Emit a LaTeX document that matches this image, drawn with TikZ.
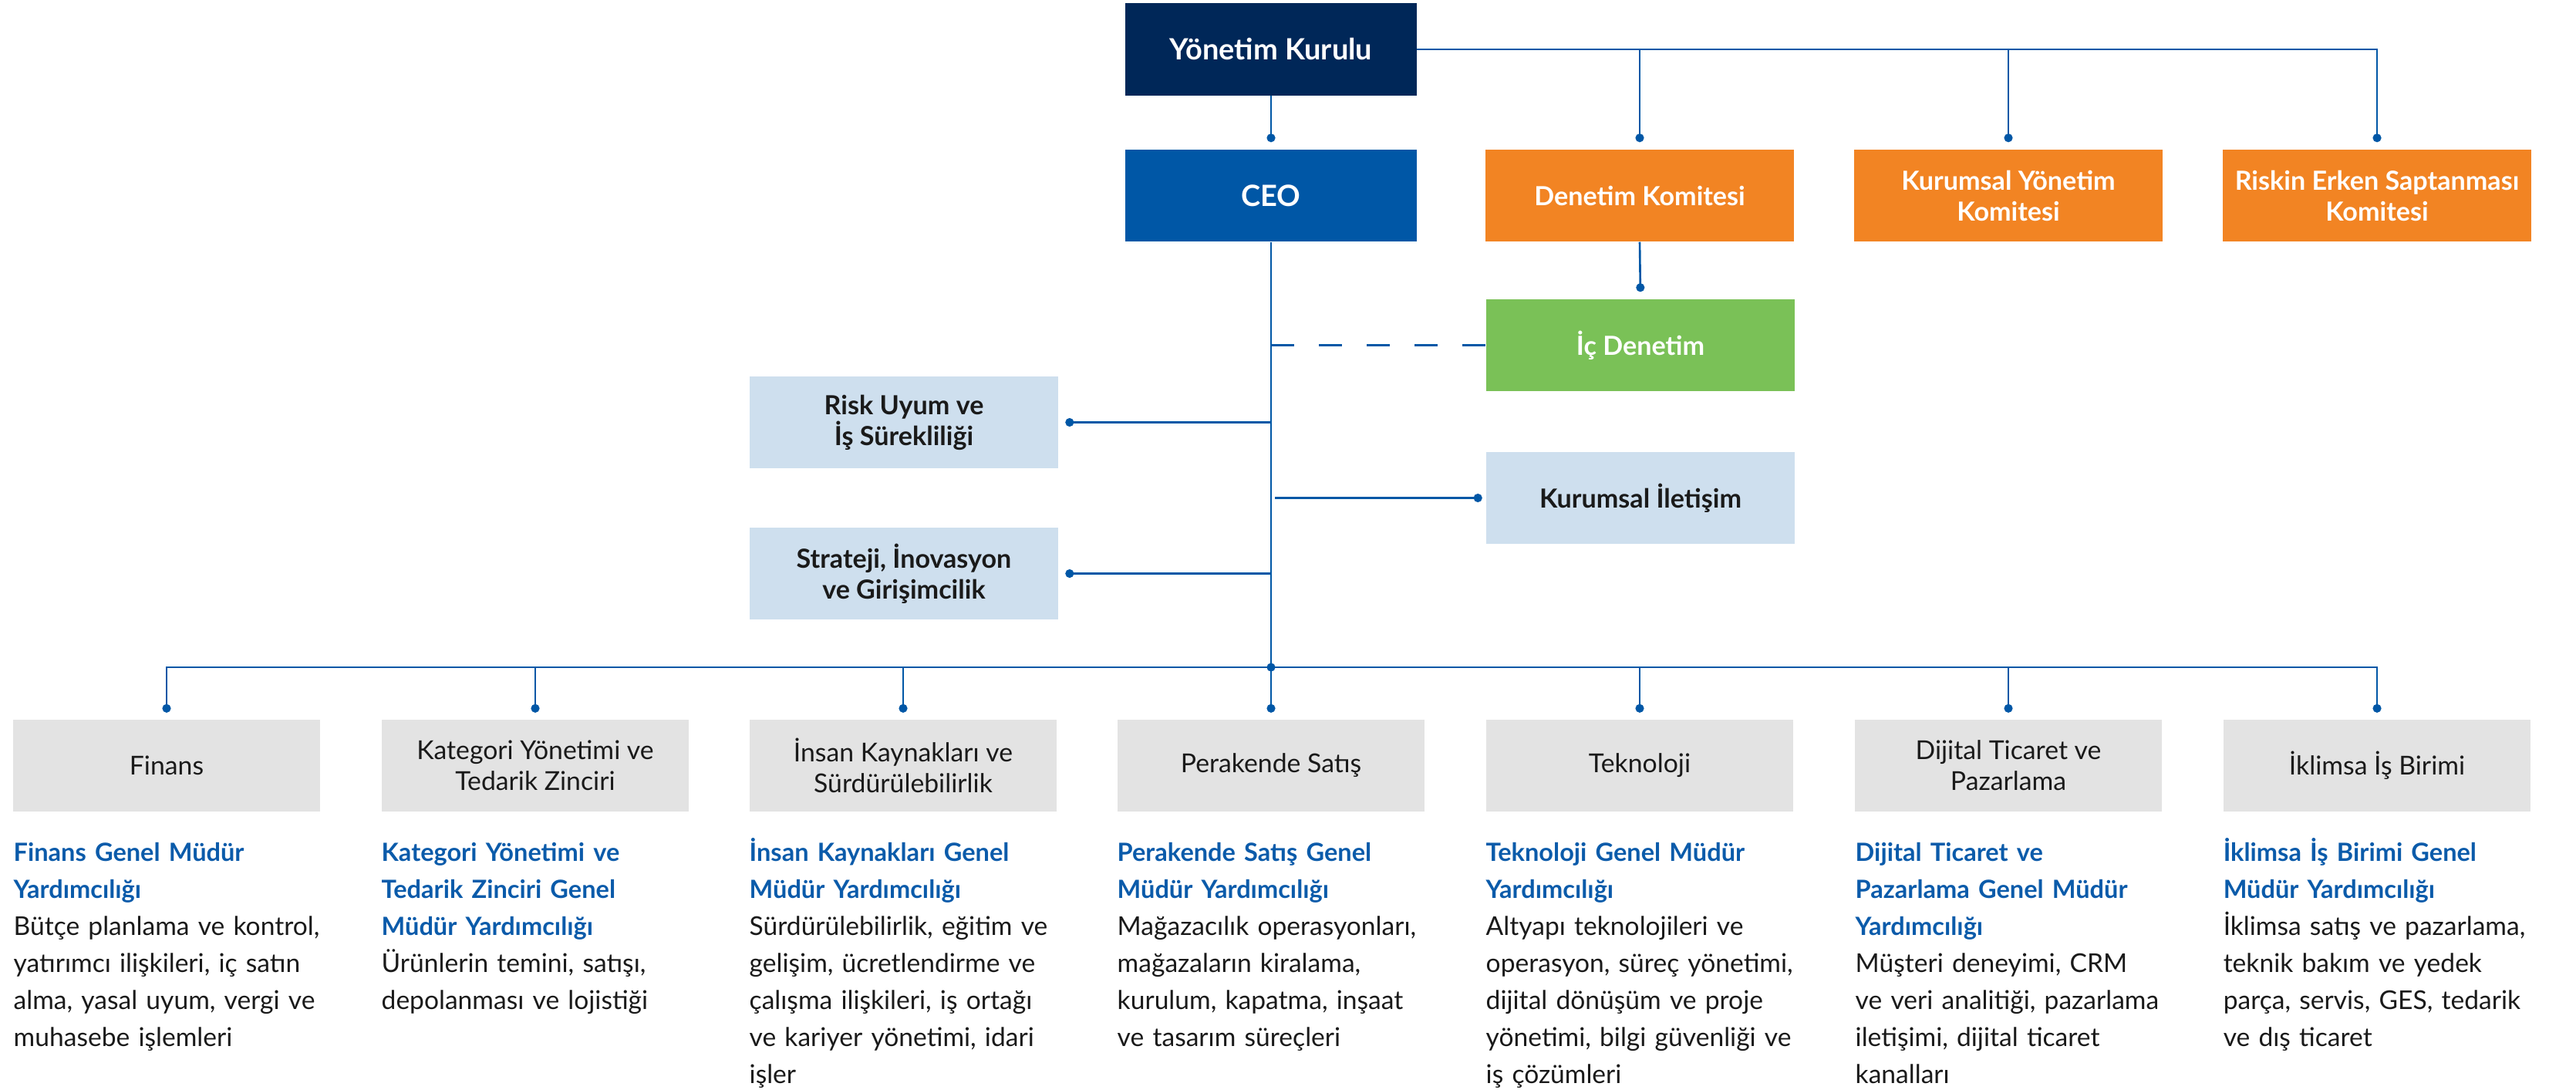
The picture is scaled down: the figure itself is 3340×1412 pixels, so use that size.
\documentclass[tikz,border=0pt]{standalone}
\usepackage{fontspec}
\setmainfont{Lato}
\usetikzlibrary{arrows.meta,calc}
\definecolor{navy}{HTML}{002758}
\definecolor{ceoblue}{HTML}{0057A6}
\definecolor{orng}{HTML}{F28423}
\definecolor{grn}{HTML}{7AC157}
\definecolor{lblue}{HTML}{CEDFEE}
\definecolor{lgrey}{HTML}{E3E3E3}
\definecolor{lineblue}{HTML}{0057A6}
\definecolor{tblue}{HTML}{0B5BAA}
\definecolor{txt}{HTML}{1A1A1A}
\begin{document}
\begin{tikzpicture}[x=0.01cm,y=-0.01cm,
  box/.style={rectangle, minimum width=4.0cm, minimum height=1.19cm, inner sep=0pt, align=center},
  topbox/.style={box, minimum width=3.77cm, fill=#1, text=white, font=\bfseries\fontsize{10.8}{12.5}\selectfont},
  orbox/.style={box, fill=orng, text=white, font=\bfseries\fontsize{9.7}{11.38}\selectfont},
  grbox/.style={box, fill=grn, text=white, font=\bfseries\fontsize{9.7}{11.38}\selectfont},
  lbbox/.style={box, fill=lblue, text=txt, font=\bfseries\fontsize{9.7}{11.38}\selectfont},
  gybox/.style={box, minimum width=3.98cm, fill=lgrey, text=txt, font=\fontsize{9.6}{11.38}\selectfont},
  desc/.style={anchor=north west, inner sep=0pt, text width=4.6cm, align=left, text=txt, font=\fontsize{9.55}{13.66}\selectfont},
  conn/.style={draw=lineblue, line width=0.75pt},
  dotend/.style={-{Circle[length=0.11cm,width=0.11cm]}, shorten >=#1},
  dotend/.default=0.09cm,
  jdot/.style={fill=lineblue}
]
\useasboundingbox (0,0) rectangle (3340,1412);
\newcommand{\ttl}[1]{{\color{tblue}\bfseries\fontsize{9.25}{13.66}\selectfont #1}}

% top level
\node[topbox=navy] (yk) at (1648,64) {Yönetim Kurulu};
\node[topbox=ceoblue] (ceo) at (1648,253.5) {CEO};
\node[orbox] (dk) at (2126,253.5) {Denetim Komitesi};
\node[orbox] (kyk) at (2604,253.5) {Kurumsal Yönetim\\Komitesi};
\node[orbox] (rek) at (3082,253.5) {Riskin Erken Saptanması\\Komitesi};

% side boxes
\node[grbox] (ic) at (2127,447.5) {İç Denetim};
\node[lbbox] (ki) at (2127,645.5) {Kurumsal İletişim};
\node[lbbox] (ru) at (1172,547.5) {Risk Uyum ve\\İş Sürekliliği};
\node[lbbox] (st) at (1172,743.5) {Strateji, İnovasyon\\ve Girişimcilik};

% bottom boxes
\node[gybox] (p1) at (216,992.5) {Finans};
\node[gybox] (p2) at (694,992.5) {Kategori Yönetimi ve\\Tedarik Zinciri};
\node[gybox] (p3) at (1171,992.5) {İnsan Kaynakları ve\\Sürdürülebilirlik};
\node[gybox] (p4) at (1648,992.5) {Perakende Satış};
\node[gybox] (p5) at (2126,992.5) {Teknoloji};
\node[gybox] (p6) at (2604,992.5) {Dijital Ticaret ve\\Pazarlama};
\node[gybox] (p7) at (3082,992.5) {İklimsa İş Birimi};

\coordinate (bus) at (1648,865);

% connectors top
\draw[conn,dotend] (yk.east) -| (rek.north);
\draw[conn,dotend] (yk.east -| dk.north) -- (dk.north);
\draw[conn,dotend] (yk.east -| kyk.north) -- (kyk.north);
\draw[conn,dotend] (yk.south) -- (ceo.north);
\draw[conn,dotend] (dk.south) -- (ic.north);

% CEO side connectors
\draw[conn, dash pattern=on 0.30cm off 0.32cm] (ceo.south |- ic.west) -- (ic.west);
\draw[conn,dotend=0.045cm] ($(ceo.south |- ki.west)+(5,0)$) -- (ki.west);
\draw[conn,dotend=0.085cm] (ceo.south |- ru.east) -- (ru.east);
\draw[conn,dotend=0.085cm] (ceo.south |- st.east) -- (st.east);

% CEO trunk and bus
\draw[conn,dotend=0.085cm] (ceo.south) -- (p4.north);
\draw[conn,{Circle[length=0.11cm,width=0.11cm]}-{Circle[length=0.11cm,width=0.11cm]}, shorten <=0.085cm, shorten >=0.085cm] (p1.north) |- (bus) -| (p7.north);
\foreach \p in {p2,p3,p5,p6}{
  \draw[conn,dotend=0.085cm] (\p.north |- bus) -- (\p.north);
}
\fill[jdot] (bus) circle (0.056cm);

% descriptions
\node[desc] (d1) at (17,1082) {\strut\ttl{Finans Genel Müdür\\Yardımcılığı}\\Bütçe planlama ve kontrol,\\yatırımcı ilişkileri, iç satın\\alma, yasal uyum, vergi ve\\muhasebe işlemleri};
\node[desc] (d2) at (494,1082) {\strut\ttl{Kategori Yönetimi ve\\Tedarik Zinciri Genel\\Müdür Yardımcılığı}\\Ürünlerin temini, satışı,\\depolanması ve lojistiği};
\node[desc] (d3) at (971,1082) {\strut\ttl{İnsan Kaynakları Genel\\Müdür Yardımcılığı}\\Sürdürülebilirlik, eğitim ve\\gelişim, ücretlendirme ve\\çalışma ilişkileri, iş ortağı\\ve kariyer yönetimi, idari\\işler};
\node[desc] (d4) at (1448,1082) {\strut\ttl{Perakende Satış Genel\\Müdür Yardımcılığı}\\Mağazacılık operasyonları,\\mağazaların kiralama,\\kurulum, kapatma, inşaat\\ve tasarım süreçleri};
\node[desc] (d5) at (1926,1082) {\strut\ttl{Teknoloji Genel Müdür\\Yardımcılığı}\\Altyapı teknolojileri ve\\operasyon, süreç yönetimi,\\dijital dönüşüm ve proje\\yönetimi, bilgi güvenliği ve\\iş çözümleri};
\node[desc] (d6) at (2405,1082) {\strut\ttl{Dijital Ticaret ve\\Pazarlama Genel Müdür\\Yardımcılığı}\\Müşteri deneyimi, CRM\\ve veri analitiği, pazarlama\\iletişimi, dijital ticaret\\kanalları};
\node[desc] (d7) at (2882,1082) {\strut\ttl{İklimsa İş Birimi Genel\\Müdür Yardımcılığı}\\İklimsa satış ve pazarlama,\\teknik bakım ve yedek\\parça, servis, GES, tedarik\\ve dış ticaret};
\end{tikzpicture}
\end{document}
